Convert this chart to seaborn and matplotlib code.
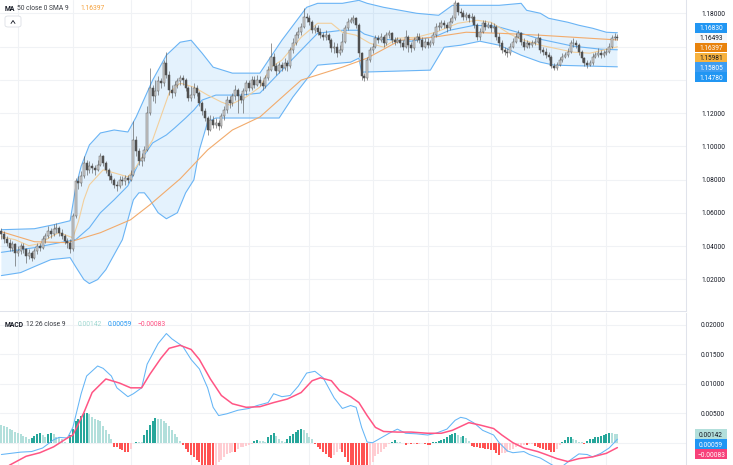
import numpy as np
import seaborn as sns
import matplotlib.pyplot as plt
from matplotlib.patches import Rectangle, FancyBboxPatch
from matplotlib.lines import Line2D

# --- daily candles (open of each bar = previous close) ---
first_open = 1.049
close = [
    1.047, 1.044, 1.042, 1.039, 1.041, 1.036, 1.037, 1.040, 1.038, 1.034,
    1.036, 1.033, 1.037, 1.040, 1.039, 1.044, 1.046, 1.049, 1.047, 1.050,
    1.051, 1.048, 1.046, 1.043, 1.042, 1.038, 1.058, 1.079, 1.078, 1.082,
    1.090, 1.086, 1.088, 1.087, 1.086, 1.089, 1.094, 1.090, 1.086, 1.082,
    1.080, 1.077, 1.076, 1.080, 1.079, 1.081, 1.080, 1.083, 1.104, 1.097,
    1.091, 1.093, 1.098, 1.120, 1.135, 1.130, 1.133, 1.139, 1.138, 1.150,
    1.143, 1.134, 1.132, 1.137, 1.139, 1.141, 1.140, 1.135, 1.129, 1.131,
    1.135, 1.132, 1.126, 1.121, 1.117, 1.110, 1.116, 1.113, 1.114, 1.112,
    1.118, 1.122, 1.128, 1.126, 1.130, 1.134, 1.130, 1.128, 1.133, 1.138,
    1.135, 1.140, 1.137, 1.140, 1.138, 1.136, 1.141, 1.146, 1.154, 1.148,
    1.145, 1.149, 1.147, 1.150, 1.148, 1.158, 1.162, 1.167, 1.169, 1.172,
    1.178, 1.177, 1.175, 1.170, 1.171, 1.169, 1.167, 1.166, 1.167, 1.164,
    1.159, 1.160, 1.156, 1.158, 1.163, 1.171, 1.175, 1.176, 1.177, 1.173,
    1.156, 1.142, 1.141, 1.152, 1.158, 1.160, 1.165, 1.164, 1.166, 1.162,
    1.167, 1.168, 1.164, 1.163, 1.164, 1.162, 1.160, 1.166, 1.161, 1.159,
    1.164, 1.166, 1.164, 1.160, 1.163, 1.161, 1.162, 1.167, 1.172, 1.172,
    1.174, 1.173, 1.171, 1.175, 1.177, 1.186, 1.181, 1.180, 1.178, 1.179,
    1.177, 1.178, 1.173, 1.166, 1.169, 1.174, 1.172, 1.173, 1.171, 1.172,
    1.166, 1.162, 1.158, 1.157, 1.156, 1.160, 1.163, 1.166, 1.168, 1.163,
    1.160, 1.162, 1.161, 1.162, 1.163, 1.165, 1.158, 1.157, 1.155, 1.154,
    1.148, 1.147, 1.149, 1.152, 1.154, 1.155, 1.157, 1.162, 1.162, 1.161,
    1.157, 1.153, 1.150, 1.149, 1.150, 1.154, 1.155, 1.156, 1.155, 1.156,
    1.157, 1.160, 1.165, 1.166, 1.16493,
]
high = [
    1.051, 1.049, 1.046, 1.044, 1.043, 1.042, 1.040, 1.042, 1.042, 1.039,
    1.038, 1.037, 1.039, 1.042, 1.042, 1.046, 1.048, 1.052, 1.051, 1.053,
    1.054, 1.052, 1.050, 1.047, 1.045, 1.044, 1.060, 1.081, 1.082, 1.085,
    1.094, 1.092, 1.091, 1.090, 1.089, 1.092, 1.096, 1.095, 1.091, 1.087,
    1.084, 1.081, 1.079, 1.082, 1.082, 1.083, 1.083, 1.086, 1.115, 1.106,
    1.099, 1.096, 1.100, 1.124, 1.147, 1.137, 1.140, 1.142, 1.141, 1.152,
    1.157, 1.145, 1.137, 1.139, 1.141, 1.143, 1.143, 1.141, 1.136, 1.136,
    1.138, 1.137, 1.133, 1.127, 1.123, 1.118, 1.119, 1.118, 1.117, 1.116,
    1.120, 1.124, 1.130, 1.130, 1.132, 1.137, 1.135, 1.132, 1.135, 1.140,
    1.140, 1.142, 1.142, 1.143, 1.142, 1.140, 1.143, 1.148, 1.162, 1.156,
    1.150, 1.151, 1.151, 1.153, 1.152, 1.160, 1.165, 1.169, 1.172, 1.174,
    1.183, 1.180, 1.179, 1.176, 1.173, 1.173, 1.171, 1.169, 1.170, 1.168,
    1.165, 1.163, 1.162, 1.161, 1.168, 1.173, 1.177, 1.178, 1.179, 1.178,
    1.174, 1.157, 1.144, 1.154, 1.160, 1.162, 1.167, 1.167, 1.168, 1.167,
    1.169, 1.170, 1.169, 1.166, 1.166, 1.165, 1.164, 1.170, 1.167, 1.163,
    1.166, 1.168, 1.168, 1.166, 1.165, 1.165, 1.164, 1.169, 1.174, 1.175,
    1.176, 1.176, 1.175, 1.177, 1.179, 1.188, 1.187, 1.183, 1.182, 1.181,
    1.180, 1.180, 1.179, 1.174, 1.171, 1.176, 1.176, 1.175, 1.175, 1.174,
    1.173, 1.168, 1.164, 1.160, 1.159, 1.162, 1.165, 1.168, 1.170, 1.169,
    1.165, 1.164, 1.163, 1.164, 1.165, 1.168, 1.166, 1.160, 1.159, 1.157,
    1.155, 1.150, 1.151, 1.154, 1.156, 1.157, 1.159, 1.164, 1.165, 1.164,
    1.162, 1.158, 1.154, 1.152, 1.152, 1.156, 1.157, 1.159, 1.158, 1.158,
    1.159, 1.162, 1.167, 1.168, 1.1675,
]
low = [
    1.044, 1.042, 1.040, 1.037, 1.037, 1.028, 1.034, 1.035, 1.036, 1.030,
    1.032, 1.031, 1.032, 1.035, 1.037, 1.038, 1.042, 1.045, 1.045, 1.046,
    1.048, 1.046, 1.044, 1.041, 1.039, 1.036, 1.037, 1.057, 1.074, 1.076,
    1.081, 1.083, 1.084, 1.084, 1.083, 1.085, 1.088, 1.088, 1.084, 1.080,
    1.078, 1.075, 1.073, 1.075, 1.077, 1.077, 1.078, 1.079, 1.082, 1.094,
    1.089, 1.088, 1.091, 1.097, 1.119, 1.127, 1.126, 1.131, 1.135, 1.136,
    1.141, 1.131, 1.129, 1.130, 1.135, 1.137, 1.137, 1.133, 1.127, 1.127,
    1.129, 1.130, 1.124, 1.119, 1.115, 1.107, 1.109, 1.111, 1.111, 1.110,
    1.111, 1.116, 1.120, 1.123, 1.124, 1.128, 1.120, 1.126, 1.120, 1.131,
    1.133, 1.134, 1.135, 1.136, 1.136, 1.134, 1.135, 1.140, 1.145, 1.146,
    1.143, 1.144, 1.145, 1.146, 1.145, 1.147, 1.156, 1.161, 1.165, 1.167,
    1.171, 1.175, 1.173, 1.168, 1.168, 1.167, 1.165, 1.164, 1.164, 1.162,
    1.157, 1.156, 1.154, 1.155, 1.157, 1.162, 1.170, 1.174, 1.174, 1.171,
    1.154, 1.140, 1.139, 1.140, 1.151, 1.156, 1.159, 1.162, 1.163, 1.160,
    1.161, 1.165, 1.162, 1.161, 1.162, 1.160, 1.158, 1.159, 1.157, 1.157,
    1.158, 1.163, 1.162, 1.158, 1.159, 1.159, 1.160, 1.161, 1.166, 1.170,
    1.171, 1.171, 1.169, 1.170, 1.174, 1.176, 1.179, 1.178, 1.176, 1.176,
    1.175, 1.175, 1.171, 1.164, 1.164, 1.168, 1.170, 1.171, 1.169, 1.169,
    1.164, 1.160, 1.156, 1.155, 1.154, 1.155, 1.159, 1.162, 1.165, 1.161,
    1.158, 1.159, 1.159, 1.160, 1.161, 1.162, 1.156, 1.155, 1.153, 1.152,
    1.147, 1.146, 1.146, 1.148, 1.151, 1.153, 1.154, 1.156, 1.160, 1.159,
    1.155, 1.151, 1.148, 1.147, 1.148, 1.149, 1.153, 1.154, 1.153, 1.154,
    1.155, 1.156, 1.159, 1.164, 1.1640,
]

# --- overlays, read at sample bars (bar index, price) ---
upper_idx = [0, 12, 19, 25, 27, 29, 32, 36, 41, 46, 49, 55, 60, 65, 69, 73, 77, 84, 94, 102,
             111, 115, 124, 130, 133, 139, 151, 159, 164, 181, 189, 191, 196, 199, 206, 210, 215, 220, 224]
upper_vals = [1.0498, 1.0504, 1.0528, 1.0552, 1.0750, 1.0880, 1.1008, 1.1080, 1.1098, 1.1086,
              1.1176, 1.1398, 1.1548, 1.1626, 1.1638, 1.1560, 1.1476, 1.1440, 1.1440, 1.1638,
              1.1836, 1.1860, 1.1860, 1.1878, 1.1860, 1.1836, 1.1800, 1.1788, 1.1848, 1.1848,
              1.1860, 1.1818, 1.1800, 1.1770, 1.1746, 1.1728, 1.1710, 1.1686, 1.1683]
lower_idx = [0, 7, 12, 18, 25, 27, 30, 32, 35, 38, 41, 44, 48, 50, 52, 54, 57, 60, 64, 67,
             70, 72, 75, 78, 90, 101, 106, 115, 127, 130, 131, 156, 161, 167, 174, 181, 189, 196, 201, 224]
lower_vals = [1.0222, 1.0240, 1.0276, 1.0318, 1.0330, 1.0276, 1.0198, 1.0174, 1.0198, 1.0258,
              1.0348, 1.0438, 1.0678, 1.0720, 1.0720, 1.0678, 1.0600, 1.0564, 1.0600, 1.0720,
              1.0798, 1.0978, 1.1146, 1.1170, 1.1170, 1.1170, 1.1296, 1.1488, 1.1506, 1.1530,
              1.1446, 1.1458, 1.1596, 1.1608, 1.1632, 1.1608, 1.1548, 1.1506, 1.1488, 1.1478]
basis_idx = [0, 12, 23, 27, 32, 36, 41, 46, 50, 55, 60, 63, 67, 70, 73, 78, 87, 94, 102, 109,
             115, 124, 130, 132, 138, 149, 158, 163, 172, 180, 189, 196, 208, 218, 224]
basis_vals = [1.0362, 1.0390, 1.0426, 1.0438, 1.0510, 1.0600, 1.0678, 1.0762, 1.0900, 1.1020,
              1.1068, 1.1110, 1.1170, 1.1218, 1.1278, 1.1308, 1.1308, 1.1320, 1.1458, 1.1578,
              1.1680, 1.1698, 1.1698, 1.1675, 1.1645, 1.1632, 1.1662, 1.1698, 1.1728, 1.1722,
              1.1680, 1.1644, 1.1602, 1.1584, 1.15805]
sma9_idx = [0, 5, 10, 14, 18, 21, 24, 26, 28, 30, 32, 37, 41, 46, 49, 55, 61, 65, 70, 75,
            80, 83, 89, 94, 98, 102, 109, 115, 120, 124, 129, 134, 139, 144, 151, 158, 166, 173, 178, 181,
            185, 190, 196, 208, 214, 224]
sma9_vals = [1.0456, 1.0438, 1.0402, 1.0414, 1.0456, 1.0480, 1.0462, 1.0450, 1.0546, 1.0678,
             1.0768, 1.0858, 1.0840, 1.0816, 1.0876, 1.1038, 1.1320, 1.1380, 1.1356, 1.1308,
             1.1266, 1.1248, 1.1296, 1.1356, 1.1476, 1.1518, 1.1656, 1.1740, 1.1740, 1.1686,
             1.1668, 1.1620, 1.1596, 1.1650, 1.1656, 1.1686, 1.1740, 1.1758, 1.1746, 1.1716,
             1.1674, 1.1638, 1.1608, 1.1566, 1.1560, 1.15981]
ma50_idx = [0, 12, 24, 36, 47, 54, 65, 75, 84, 94, 109, 124, 133, 145, 157, 169, 181, 196, 224]
ma50_vals = [1.0486, 1.0426, 1.0420, 1.0480, 1.0558, 1.0648, 1.0804, 1.0978, 1.1098, 1.1176,
             1.1398, 1.1476, 1.1530, 1.1638, 1.1656, 1.1686, 1.1680, 1.1668, 1.16397]

# --- MACD (12, 26, 9) ---
macd_hist = [
    0.0030, 0.0029, 0.0027, 0.0024, 0.0021, 0.0018, 0.0016, 0.0014, 0.0012, 0.0010,
    0.0007, 0.0008, 0.0012, 0.0015, 0.0016, 0.0013, 0.0010, 0.0015, 0.0016, 0.0014,
    0.0010, 0.0009, 0.0007, 0.0001, -0.0001, 0.0013, 0.0024, 0.0036, 0.0041, 0.0045,
    0.0050, 0.0051, 0.0048, 0.0044, 0.0041, 0.0038, 0.0036, 0.0028, 0.0021, 0.0015,
    0.0007, -0.0007, -0.0008, -0.0010, -0.0012, -0.0015, -0.0016, -0.0011, -0.0001, 0.0002,
    0.0001, 0.00005, 0.0013, 0.0021, 0.0030, 0.0037, 0.0042, 0.0041, 0.0040, 0.0037,
    0.0034, 0.0028, 0.0021, 0.0014, 0.0009, 0.0003, -0.0004, -0.0010, -0.0015, -0.0021,
    -0.0025, -0.0029, -0.0033, -0.0037, -0.0040, -0.0043, -0.0045, -0.0046, -0.0042, -0.0033,
    -0.0029, -0.0024, -0.0020, -0.0017, -0.0015, -0.0016, -0.0011, -0.0008, -0.0007, -0.0005,
    -0.0004, -0.0002, 0.0003, 0.0005, 0.0003, 0.00028, 0.0002, 0.0009, 0.0013, 0.0016,
    0.0011, 0.0006, 0.0003, 0.0001, 0.0007, 0.0012, 0.0015, 0.0018, 0.0021, 0.0024,
    0.0021, 0.0016, 0.0010, 0.0006, -0.0002, -0.0007, -0.0011, -0.0016, -0.0020, -0.0024,
    -0.0026, -0.0021, -0.0015, -0.0010, -0.0015, -0.0025, -0.0032, -0.0038, -0.0042, -0.0045,
    -0.0047, -0.0048, -0.0049, -0.0050, -0.0041, -0.0033, -0.0022, -0.0020, -0.0015, -0.0010,
    -0.0007, -0.0002, 0.0002, 0.0004, 0.0001, 0.00005, -0.0001, -0.0004, -0.0002, -0.0002,
    -0.00015, -0.0002, -0.00015, -0.0001, -0.0003, -0.0004, -0.0004, 0.0001, 0.0002, 0.0003,
    0.0004, 0.0006, 0.0010, 0.0013, 0.0015, 0.0016, 0.0013, 0.0010, 0.0011, 0.0008,
    0.0003, -0.0006, -0.0007, -0.0007, -0.0009, -0.0009, -0.0010, -0.0010, -0.0012, -0.0013,
    -0.0018, -0.0021, -0.0018, -0.0017, -0.0015, -0.0012, -0.0010, -0.0008, -0.0006, -0.0005,
    -0.0004, -0.0004, -0.0003, -0.0002, -0.0006, -0.0007, -0.0009, -0.0010, -0.0012, -0.0013,
    -0.0015, -0.0016, -0.0010, -0.0004, 0.0001, 0.0005, 0.0009, 0.0010, 0.0006, 0.0004,
    0.0002, 0.00005, -0.0002, 0.0003, 0.0006, 0.0007, 0.0009, 0.0010, 0.0011, 0.0013,
    0.0015, 0.0016, 0.0016, 0.0015, 0.00142,
]
macd_idx = [0, 7, 11, 15, 19, 21, 24, 26, 29, 31, 35, 37, 40, 42, 46, 48, 51, 53, 57, 60,
            62, 66, 69, 72, 75, 77, 79, 82, 86, 90, 93, 97, 99, 102, 105, 108, 111, 114, 117, 121,
            124, 127, 129, 131, 133, 135, 138, 141, 144, 147, 151, 155, 158, 162, 165, 167, 169, 172, 175, 179,
            181, 184, 186, 190, 192, 196, 200, 202, 204, 207, 210, 213, 215, 218, 221, 224]
macd_vals = [-0.0020, -0.0016, -0.0015, -0.0009, 0.0005, 0.0009, 0.0008, 0.0026, 0.0083, 0.0113,
             0.0130, 0.0126, 0.0113, 0.0093, 0.0078, 0.0083, 0.0093, 0.0133, 0.0168, 0.0185,
             0.0176, 0.0163, 0.0141, 0.0125, 0.0093, 0.0060, 0.0046, 0.0049, 0.0055, 0.0058,
             0.0063, 0.0068, 0.0083, 0.0078, 0.0080, 0.0096, 0.0118, 0.0121, 0.0110, 0.0076,
             0.0058, 0.0063, 0.0060, 0.0026, 0.0001, 0.0000, 0.0008, 0.0016, 0.0023, 0.0016,
             0.0015, 0.0013, 0.0016, 0.0023, 0.0038, 0.0043, 0.0041, 0.0033, 0.0021, 0.0013,
             0.0000, -0.0014, -0.0017, -0.0015, -0.0020, -0.0026, -0.0037, -0.0042, -0.0040, -0.0029,
             -0.0019, -0.0020, -0.0024, -0.0018, -0.0009, 0.00059]
signal_idx = [0, 3, 9, 14, 19, 24, 26, 30, 33, 38, 43, 47, 51, 54, 58, 61, 65, 69, 72, 76,
              80, 84, 89, 94, 99, 104, 109, 113, 116, 120, 123, 127, 130, 133, 136, 139, 144, 149, 155, 160,
              164, 170, 174, 179, 182, 186, 190, 195, 198, 202, 206, 210, 215, 220, 224]
signal_vals = [-0.0050, -0.0038, -0.0023, -0.0017, -0.0007, 0.0008, 0.0013, 0.0051, 0.0085, 0.0108,
               0.0101, 0.0093, 0.0093, 0.0116, 0.0143, 0.0160, 0.0165, 0.0158, 0.0141, 0.0108,
               0.0080, 0.0066, 0.0060, 0.0061, 0.0068, 0.0074, 0.0085, 0.0105, 0.0110, 0.0105,
               0.0088, 0.0078, 0.0068, 0.0046, 0.0026, 0.0019, 0.0018, 0.0018, 0.0016, 0.0016,
               0.0021, 0.0034, 0.0030, 0.0024, 0.0013, 0.0000, -0.0009, -0.0015, -0.0020, -0.0027,
               -0.0032, -0.0027, -0.0024, -0.0018, -0.00083]

# month separators (bar index) and axis ticks
month_idx = [6, 26, 47, 69, 90, 112, 135, 155, 178, 200, 220]
price_ticks = [1.02, 1.04, 1.06, 1.08, 1.10, 1.12, 1.14, 1.16, 1.18]
price_hidden = [1.14, 1.16]
macd_ticks = [0.0, 0.005, 0.010, 0.015, 0.020]
macd_hidden = [0.0]

# --- style ---
sns.set_style("white")
plt.rcParams['font.family'] = ['Roboto', 'DejaVu Sans']
FS = 4.7
W, H = 733, 465
fig = plt.figure(figsize=(W / 100, H / 100), dpi=100)
ax = fig.add_axes([0, 154 / H, 686 / W, 311 / H])
mx = fig.add_axes([0, 0, 686 / W, 152 / H], sharex=ax)

for a in (ax, mx):
    a.set_xticks(month_idx)
    a.grid(True, color='#f0f2f5', lw=0.75)
    a.set_axisbelow(True)
    for s in ('left', 'top', 'bottom'):
        a.spines[s].set_visible(False)
    a.spines['right'].set_color('#e0e3eb')
    a.spines['right'].set_linewidth(0.75)
    a.tick_params(axis='x', length=0, labelbottom=False)
    a.tick_params(axis='y', length=0, left=False, labelleft=False, right=True,
                  labelright=True, labelsize=FS, labelcolor='#131722', pad=10.8)
ax.spines['bottom'].set_visible(True)
ax.spines['bottom'].set_color('#e0e3eb')
ax.spines['bottom'].set_linewidth(0.75)

# --- candles ---
close = np.array(close)
high = np.array(high)
low = np.array(low)
idx = np.arange(len(close))
openp = np.r_[first_open, close[:-1]]
up = close >= openp
body_bottom = np.minimum(openp, close)
body_height = np.maximum(np.abs(close - openp), 0.0004)

ax.fill(np.r_[upper_idx, lower_idx[::-1]], np.r_[upper_vals, lower_vals[::-1]],
        color='#2196f3', alpha=0.12, lw=0, zorder=1)
for xs, ys, col, lw in [(upper_idx, upper_vals, '#6ab4f5', 0.8),
                        (lower_idx, lower_vals, '#6ab4f5', 0.8),
                        (basis_idx, basis_vals, '#6ab4f5', 0.8),
                        (sma9_idx, sma9_vals, '#f2cf9c', 0.8),
                        (ma50_idx, ma50_vals, '#f2ab6c', 0.8)]:
    sns.lineplot(x=xs, y=ys, ax=ax, color=col, linewidth=lw, estimator=None,
                 sort=False, legend=False, zorder=2)

ax.vlines(idx, low, high, color='#5c5c5c', lw=0.45, zorder=4)
ax.bar(idx[up], body_height[up], bottom=body_bottom[up], width=0.72,
       color='#d2d2d2', edgecolor='#5c5c5c', linewidth=0.35, zorder=5)
ax.bar(idx[~up], body_height[~up], bottom=body_bottom[~up], width=0.72,
       color='#505050', edgecolor='#505050', linewidth=0.35, zorder=5)

ax.set_xlim(-0.5, 248.95)
ax.set_ylim(1.0009, 1.1880)
ax.set_yticks(price_ticks)
ax.set_yticklabels(['' if t in price_hidden else f'{t:.5f}' for t in price_ticks])
ax.set_xlabel('')
ax.set_ylabel('')

# --- MACD panel ---
hist = np.array(macd_hist)
prev = np.r_[hist[0], hist[:-1]]
rising = hist > prev
bar_cols = np.where(hist >= 0,
                    np.where(rising, '#26a69a', '#b2dfdb'),
                    np.where(rising, '#ffcdd2', '#ff5252'))
mx.bar(idx, hist, width=0.72, color=bar_cols, linewidth=0, zorder=2)
sns.lineplot(x=macd_idx, y=macd_vals, ax=mx, color='#64b5f6', linewidth=0.75,
             estimator=None, sort=False, legend=False, zorder=3)
sns.lineplot(x=signal_idx, y=signal_vals, ax=mx, color='#ff5584', linewidth=1.1,
             estimator=None, sort=False, legend=False, zorder=3)
mx.set_ylim(-0.00378, 0.02198)
mx.set_yticks(macd_ticks)
mx.set_yticklabels(['' if t in macd_hidden else f'{t:.5f}' for t in macd_ticks])
mx.set_xlabel('')
mx.set_ylabel('')


def fmt(v):
    return f'{v:.5f}'.replace('-', '\u2212')


def price_tag(y_px, value, bg, fg):
    fig.add_artist(Rectangle((695 / W, 1 - (y_px + 4.8) / H), 32 / W, 9.6 / H,
                             transform=fig.transFigure, facecolor=bg, edgecolor='none'))
    fig.text(711 / W, 1 - y_px / H, fmt(value), ha='center', va='center_baseline',
             fontsize=FS, color=fg)


main_tags = [(upper_vals[-1], '#2196f3', 'white'),
             (close[-1], '#f6f7f9', '#131722'),
             (ma50_vals[-1], '#e8820c', 'white'),
             (sma9_vals[-1], '#f7b23e', '#131722'),
             (basis_vals[-1], '#3d9df2', 'white'),
             (lower_vals[-1], '#2196f3', 'white')]
for k, (v, bg, fg) in enumerate(main_tags):
    price_tag(28 + 9.8 * k, v, bg, fg)

macd_tags = [(macd_hist[-1], '#b2dfdb', '#131722'),
             (macd_vals[-1], '#2196f3', 'white'),
             (signal_vals[-1], '#f7417a', 'white')]
for k, (v, bg, fg) in enumerate(macd_tags):
    price_tag(434 + 10 * k, v, bg, fg)

# --- legends ---
def label(x_px, y_px, s, color, weight='normal'):
    fig.text(x_px / W, 1 - y_px / H, s, fontsize=FS + 0.2, color=color,
             ha='left', va='center_baseline', fontweight=weight)


label(5, 8, 'MA', '#131722', 'bold')
label(17, 8, '50 close 0 SMA 9', '#3b3e45')
label(80, 8, fmt(ma50_vals[-1]), '#f5a13c')
label(5, 324, 'MACD', '#131722', 'bold')
label(26, 324, '12 26 close 9', '#3b3e45')
label(78, 324, fmt(macd_hist[-1]), '#9fd8d1')
label(108, 324, fmt(macd_vals[-1]), '#2196f3')
label(138, 324, fmt(signal_vals[-1]), '#ff4d80')

fig.add_artist(FancyBboxPatch((5 / W, 1 - 27 / H), 16 / W, 11 / H,
                              boxstyle='round,pad=0,rounding_size=0.004',
                              transform=fig.transFigure, facecolor='white',
                              edgecolor='#d6d9e0', linewidth=0.5))
fig.add_artist(Line2D([11 / W, 13 / W, 15 / W], [1 - 23.5 / H, 1 - 20.5 / H, 1 - 23.5 / H],
                      transform=fig.transFigure, color='#131722', lw=0.6))

fig.savefig('out.png', dpi=100)
